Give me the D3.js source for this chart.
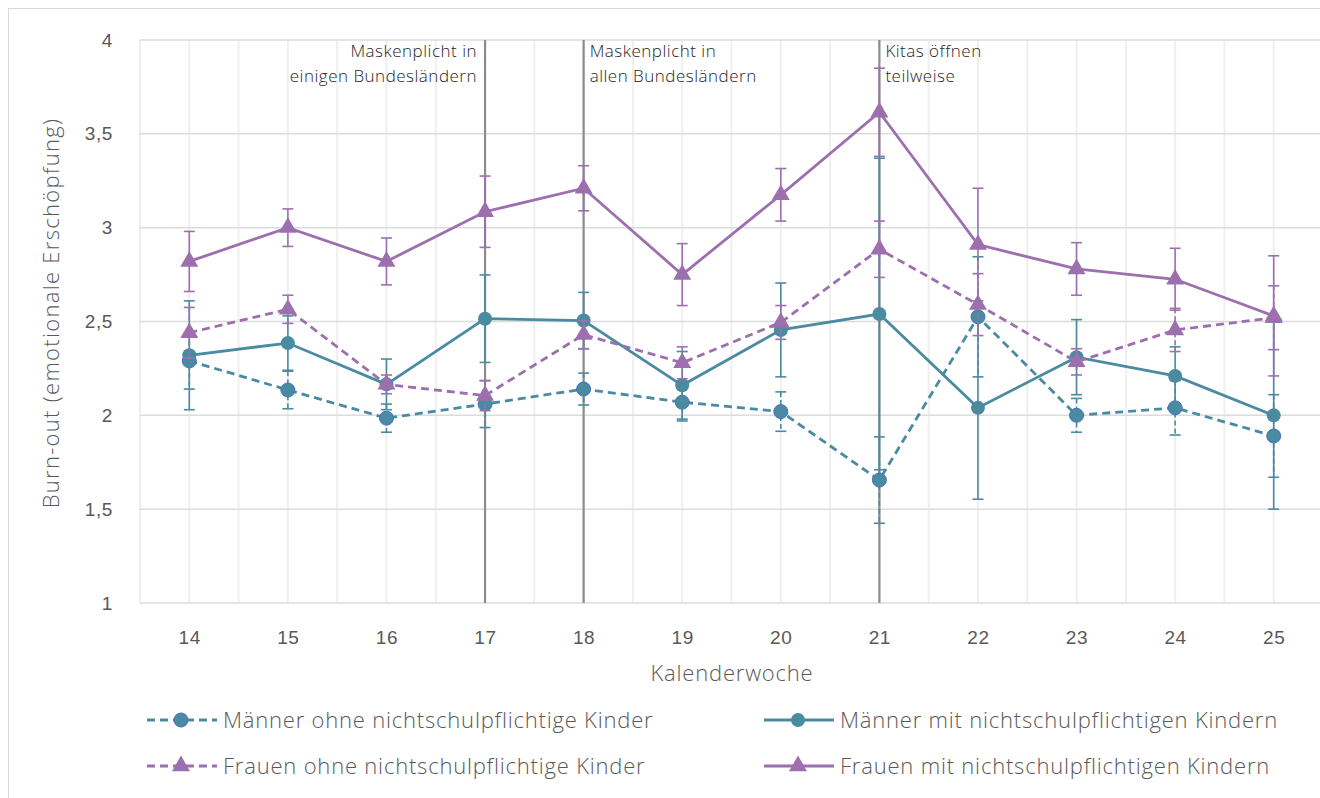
<!DOCTYPE html>
<html><head><meta charset="utf-8">
<script src="https://cdn.jsdelivr.net/npm/d3@7"></script>
<style>
html,body{margin:0;padding:0;background:#fff;}
svg{display:block;font-family:"Open Sans","Noto Sans",sans-serif;}
</style></head>
<body><svg id="c" width="1320" height="798"></svg>
<script>
const weeks = [14,15,16,17,18,19,20,21,22,23,24,25];
const yTicks = [1,1.5,2,2.5,3,3.5,4];

const maennerOhne    = [2.29, 2.135, 1.985, 2.06, 2.14, 2.07, 2.02, 1.655, 2.525, 2.0, 2.04, 1.89];
const maennerOhneErr = [0.15, 0.10, 0.075, 0.125, 0.085, 0.10, 0.105, 0.23, 0.32, 0.09, 0.145, 0.22];
const maennerMit     = [2.32, 2.385, 2.165, 2.515, 2.505, 2.16, 2.455, 2.54, 2.04, 2.31, 2.21, 2.0];
const maennerMitErr  = [0.29, 0.145, 0.135, 0.233, 0.15, 0.18, 0.25, 0.83, 0.487, 0.2, 0.155, 0.5];
const frauenOhne     = [2.44, 2.565, 2.165, 2.105, 2.43, 2.28, 2.495, 2.885, 2.59, 2.285, 2.455, 2.52];
const frauenOhneErr  = [0.135, 0.075, 0.05, 0.08, 0.075, 0.085, 0.09, 0.15, 0.165, 0.07, 0.115, 0.17];
const frauenMit      = [2.82, 3.0, 2.82, 3.085, 3.21, 2.75, 3.175, 3.615, 2.91, 2.78, 2.725, 2.53];
const frauenMitErr   = [0.16, 0.10, 0.125, 0.19, 0.12, 0.165, 0.14, 0.235, 0.30, 0.14, 0.165, 0.32];

const seriesNames = ["Männer ohne nichtschulpflichtige Kinder","Männer mit nichtschulpflichtigen Kindern","Frauen ohne nichtschulpflichtige Kinder","Frauen mit nichtschulpflichtigen Kindern"];

const eventWeeks = [17,18,21];
const eventLabels = [["Maskenplicht in","einigen Bundesländern"],["Maskenplicht in","allen Bundesländern"],["Kitas öffnen","teilweise"]];

const TEAL = "#4a8ba1", PURPLE = "#9d6faf";
const series = [
  {name:seriesNames[0], v:maennerOhne, e:maennerOhneErr, color:TEAL, dash:"8,5", marker:"circle", stroke:"#4472c4"},
  {name:seriesNames[1], v:maennerMit, e:maennerMitErr, color:TEAL, dash:null, marker:"circle", stroke:null},
  {name:seriesNames[2], v:frauenOhne, e:frauenOhneErr, color:PURPLE, dash:"8,5", marker:"triangle", stroke:null},
  {name:seriesNames[3], v:frauenMit, e:frauenMitErr, color:PURPLE, dash:null, marker:"triangle", stroke:null}
];

const svg = d3.select("#c");
const L=140, R=1323, T=40, B=603;
const x = d3.scaleLinear().domain([13.5,25.5]).range([L,R]);
const y = d3.scaleLinear().domain([1,4]).range([B,T]);

// outer frame
svg.append("rect").attr("x",8.5).attr("y",8.5).attr("width",1340).attr("height",820)
  .attr("fill","none").attr("stroke","#d9d9d9").attr("stroke-width",1);

// vertical gridlines (every half week)
const vgrid = d3.range(13.5, 25.51, 0.5);
svg.append("g").selectAll("line").data(vgrid).join("line")
  .attr("x1",d=>x(d)).attr("x2",d=>x(d)).attr("y1",T).attr("y2",B)
  .attr("stroke","#efefef").attr("stroke-width",2);
// horizontal gridlines
svg.append("g").selectAll("line").data(yTicks).join("line")
  .attr("x1",L).attr("x2",R).attr("y1",d=>y(d)).attr("y2",d=>y(d))
  .attr("stroke","#dcdcdc").attr("stroke-width",1.5);

// axes
const yAxis = d3.axisLeft(y).tickValues(yTicks).tickSize(0).tickPadding(0)
  .tickFormat(d=>String(d).replace(".",","));
const ga = svg.append("g").attr("transform",`translate(113,0)`).call(yAxis);
ga.select(".domain").remove();
ga.selectAll("text").attr("font-size",19).attr("fill","#595959").attr("font-weight",300).attr("letter-spacing",0.6);

const xAxis = d3.axisBottom(x).tickValues(weeks).tickSize(0).tickPadding(0).tickFormat(d3.format("d"));
const gx = svg.append("g").attr("transform",`translate(0,${B+34})`).call(xAxis);
gx.select(".domain").remove();
gx.selectAll("text").attr("font-size",19).attr("fill","#595959").attr("font-weight",300).attr("dy","0.35em").attr("letter-spacing",0.6);

svg.append("text").attr("x",732).attr("y",681).attr("text-anchor","middle")
  .attr("font-size",22).attr("letter-spacing",0.8).attr("fill","#595959").attr("font-weight",300).text("Kalenderwoche");
svg.append("text").attr("transform",`translate(59,313) rotate(-90)`).attr("text-anchor","middle")
  .attr("font-size",22).attr("letter-spacing",1.3).attr("fill","#595959").attr("font-weight",300).text("Burn-out (emotionale Erschöpfung)");

// event lines
svg.append("g").selectAll("line").data(eventWeeks).join("line")
  .attr("x1",d=>x(d)).attr("x2",d=>x(d)).attr("y1",T).attr("y2",B)
  .attr("stroke","#8c8c8c").attr("stroke-width",2.2);
// event labels
eventWeeks.forEach((w,i)=>{
  const right = i===0;
  const t = svg.append("text").attr("font-size",17).attr("letter-spacing",0.5).attr("fill","#262626").attr("font-weight",300)
    .attr("text-anchor", right?"end":"start");
  eventLabels[i].forEach((ln,j)=>{
    t.append("tspan").attr("x", right? x(w)-8 : x(w)+6).attr("y", 57+j*25).text(ln);
  });
});

const tri = d3.symbol().type(d3.symbolTriangle).size(140);
const line = d3.line().x((d,i)=>x(weeks[i])).y(d=>y(d));

series.forEach(s=>{
  const g = svg.append("g");
  const eb = g.append("g").attr("stroke",s.color).attr("stroke-width",1.6).attr("fill","none");
  s.v.forEach((v,i)=>{
    const xx = x(weeks[i]);
    eb.append("line").attr("x1",xx).attr("x2",xx).attr("y1",y(v+s.e[i])).attr("y2",y(v-s.e[i]))
      .attr("stroke-dasharray", s.dash ? "5,3" : null);
    [v+s.e[i], v-s.e[i]].forEach(c=>{
      eb.append("line").attr("x1",xx-5.5).attr("x2",xx+5.5).attr("y1",y(c)).attr("y2",y(c));
    });
  });
  g.append("path").attr("d",line(s.v)).attr("fill","none").attr("stroke",s.color)
    .attr("stroke-width",2.8).attr("stroke-dasharray",s.dash);
  s.v.forEach((v,i)=>{
    if(s.marker==="circle"){
      g.append("circle").attr("cx",x(weeks[i])).attr("cy",y(v)).attr("r",7).attr("fill",s.color)
        .attr("stroke",s.stroke||"none").attr("stroke-width",s.stroke?1:0);
    } else {
      g.append("path").attr("d",tri).attr("transform",`translate(${x(weeks[i])},${y(v)})`).attr("fill",s.color);
    }
  });
});

// legend
const legPos = [[147,720],[764,720],[147,766],[764,766]];
series.forEach((s,i)=>{
  const [lx,ly] = legPos[i];
  const g = svg.append("g").attr("transform",`translate(${lx},${ly})`);
  g.append("line").attr("x1",0).attr("x2",70).attr("y1",0).attr("y2",0).attr("stroke",s.color)
    .attr("stroke-width",2.8).attr("stroke-dasharray",s.dash);
  if(s.marker==="circle"){
    g.append("circle").attr("cx",34).attr("cy",0).attr("r",7).attr("fill",s.color)
      .attr("stroke",s.stroke||"none").attr("stroke-width",s.stroke?1:0);
  } else {
    g.append("path").attr("d",tri).attr("transform","translate(34,0)").attr("fill",s.color);
  }
  g.append("text").attr("x",76).attr("y",0).attr("dy","0.35em").attr("font-size",22).attr("letter-spacing",0.8)
    .attr("fill","#595959").attr("font-weight",300).text(s.name);
});
</script></body></html>
